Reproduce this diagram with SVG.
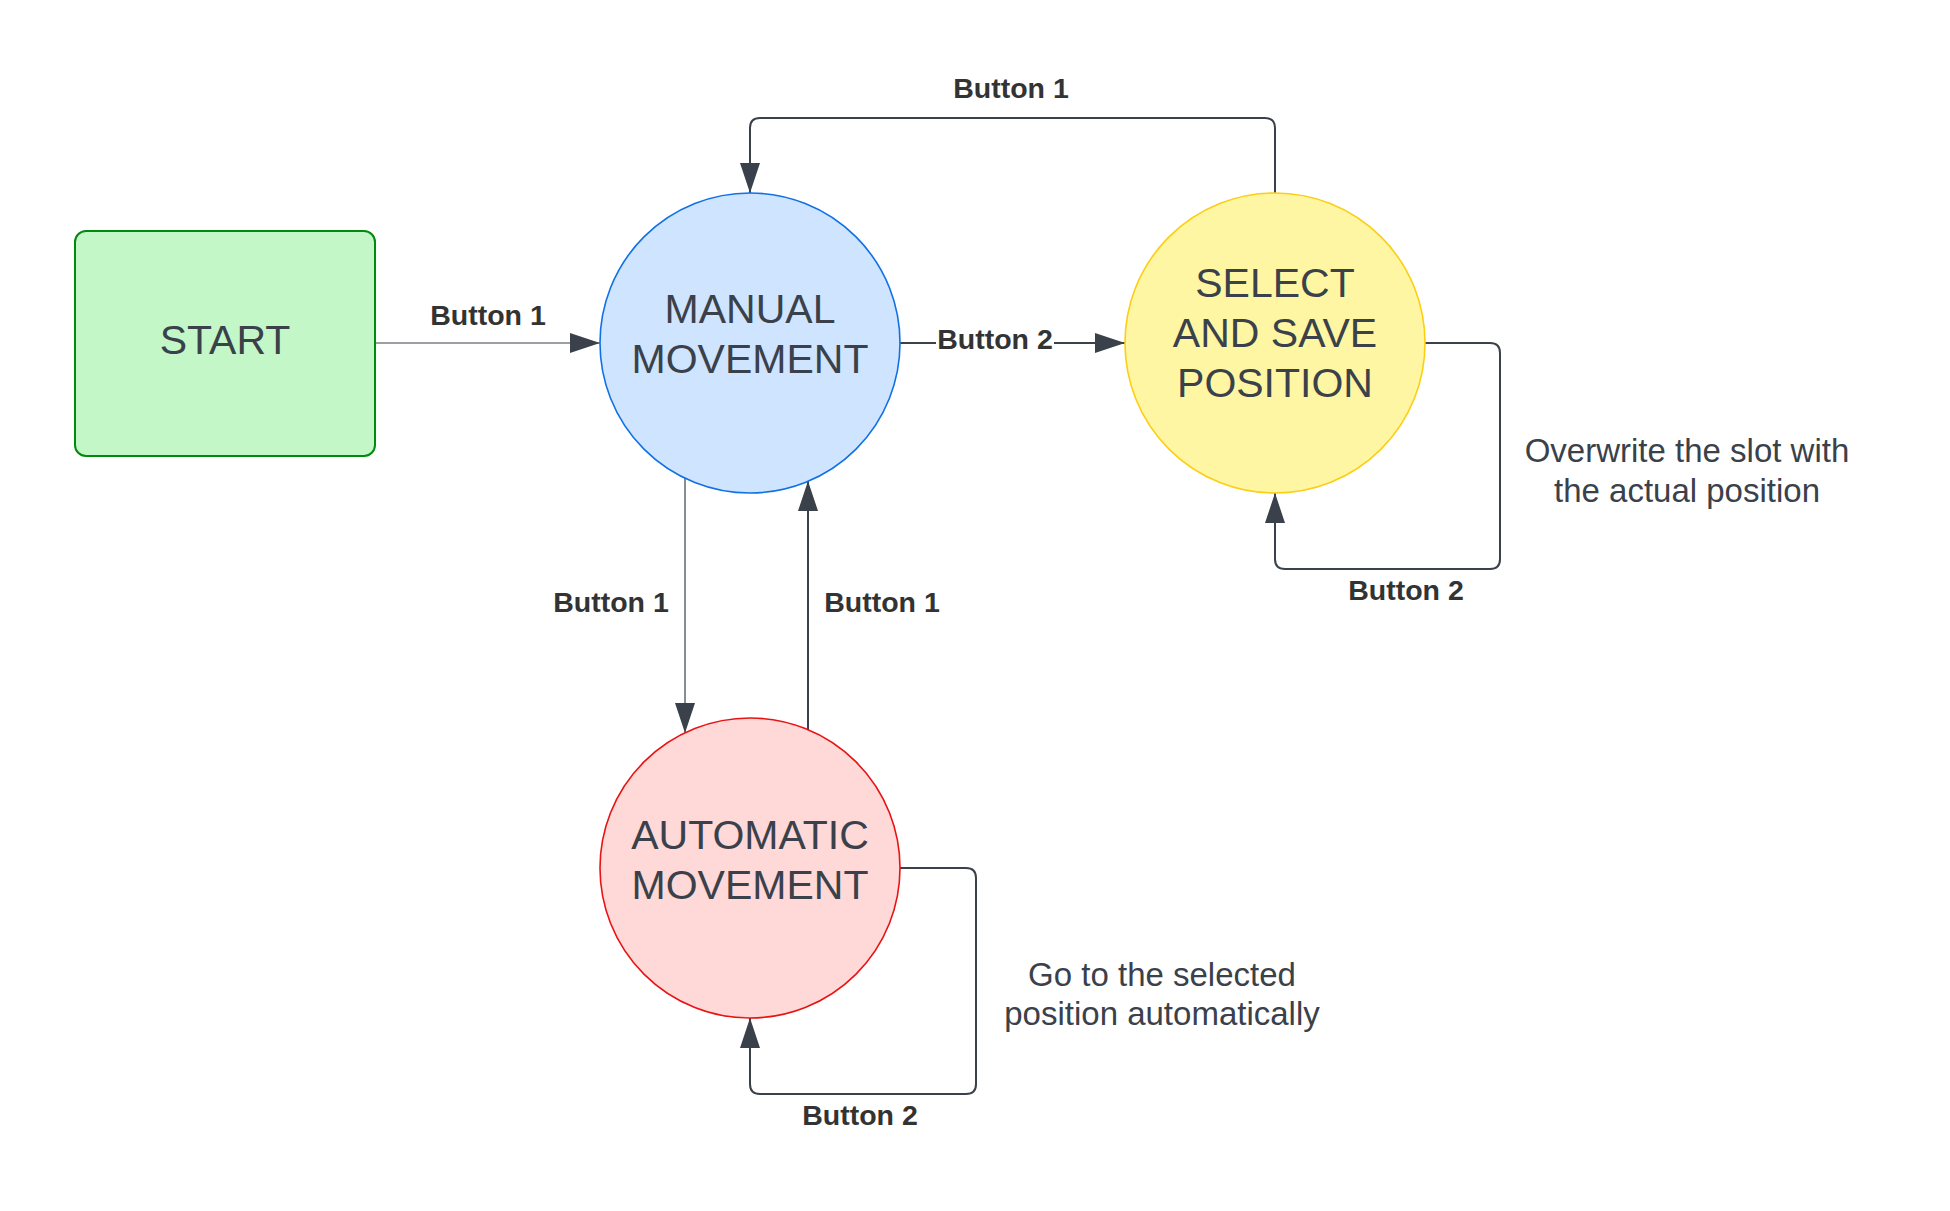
<svg xmlns="http://www.w3.org/2000/svg" width="1950" height="1211" viewBox="0 0 1950 1211">
<style>
.node-text{font-family:"Liberation Sans",Arial,sans-serif;font-size:41px;fill:#3a414a;text-anchor:middle}
.lbl{font-family:"Liberation Sans",Arial,sans-serif;font-size:28.5px;font-weight:bold;fill:#333333;text-anchor:middle}
.note{font-family:"Liberation Sans",Arial,sans-serif;font-size:33px;fill:#3a414a;text-anchor:middle}
.conn{fill:none;stroke:#3a414a;stroke-width:2}
.thin{stroke-width:1.2}
</style>
<defs>
<marker id="arrow" markerUnits="userSpaceOnUse" markerWidth="30" markerHeight="20" refX="30" refY="10" orient="auto" viewBox="0 0 30 20">
<path d="M0,0 L30,10 L0,20 z" fill="#3a414a"/>
</marker>
</defs>
<rect width="1950" height="1211" fill="#ffffff"/>
<g id="connectors">
<path class="conn thin" d="M375,343 H600" marker-end="url(#arrow)"/>
<path class="conn" d="M900,343 H1125" marker-end="url(#arrow)"/>
<path class="conn" d="M1275,193 V128 Q1275,118 1265,118 H760 Q750,118 750,128 V193" marker-end="url(#arrow)"/>
<path class="conn" d="M1425,343 H1490 Q1500,343 1500,353 V559 Q1500,569 1490,569 H1285 Q1275,569 1275,559 V493" marker-end="url(#arrow)"/>
<path class="conn thin" d="M685,478 V733" marker-end="url(#arrow)"/>
<path class="conn" d="M808,730 V481" marker-end="url(#arrow)"/>
<path class="conn" d="M900,868 H966 Q976,868 976,878 V1084 Q976,1094 966,1094 H760 Q750,1094 750,1084 V1018" marker-end="url(#arrow)"/>
<text class="lbl" x="488" y="325">Button 1</text>
<rect x="936" y="325" width="118" height="30" fill="#ffffff"/>
<text class="lbl" x="995" y="349">Button 2</text>
<text class="lbl" x="1011" y="98">Button 1</text>
<text class="lbl" x="1406" y="600">Button 2</text>
<text class="lbl" x="611" y="612">Button 1</text>
<text class="lbl" x="882" y="612">Button 1</text>
<text class="lbl" x="860" y="1125">Button 2</text>
</g>
<g id="start">
<rect x="75" y="231" width="300" height="225" rx="11" ry="11" fill="#c3f7c8" stroke="#008a0e" stroke-width="2"/>
<text class="node-text" x="225" y="354">START</text>
</g>
<g id="manual">
<circle cx="750" cy="343" r="150" fill="#cfe4ff" stroke="#1071e5" stroke-width="1.6"/>
<text class="node-text" x="750" y="323">MANUAL</text>
<text class="node-text" x="750" y="373">MOVEMENT</text>
</g>
<g id="select">
<circle cx="1275" cy="343" r="150" fill="#fff6a3" stroke="#fcce14" stroke-width="1.6"/>
<text class="node-text" x="1275" y="297">SELECT</text>
<text class="node-text" x="1275" y="347">AND SAVE</text>
<text class="node-text" x="1275" y="397">POSITION</text>
</g>
<g id="automatic">
<circle cx="750" cy="868" r="150" fill="#ffd8d8" stroke="#e81313" stroke-width="1.6"/>
<text class="node-text" x="750" y="849">AUTOMATIC</text>
<text class="node-text" x="750" y="899">MOVEMENT</text>
</g>
<g id="note-overwrite">
<text class="note" x="1687" y="462">Overwrite the slot with</text>
<text class="note" x="1687" y="502">the actual position</text>
</g>
<g id="note-goto">
<text class="note" x="1162" y="986">Go to the selected</text>
<text class="note" x="1162" y="1025">position automatically</text>
</g>
</svg>
